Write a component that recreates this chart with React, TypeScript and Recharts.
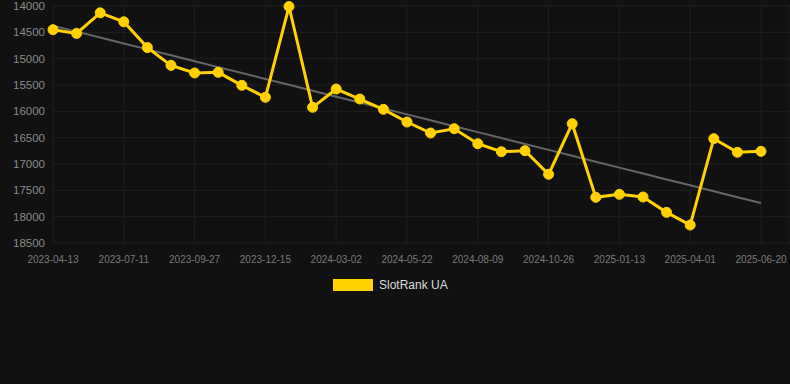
import { LineChart, Line, XAxis, YAxis, CartesianGrid } from "recharts";

const dates = [
  "2023-04-13", "2023-05-13", "2023-06-11", "2023-07-11", "2023-08-06",
  "2023-09-01", "2023-09-27", "2023-10-23", "2023-11-19", "2023-12-15",
  "2024-01-10", "2024-02-05", "2024-03-02", "2024-03-29", "2024-04-25",
  "2024-05-22", "2024-06-17", "2024-07-13", "2024-08-09", "2024-09-04",
  "2024-09-30", "2024-10-26", "2024-11-21", "2024-12-18", "2025-01-13",
  "2025-02-08", "2025-03-06", "2025-04-01", "2025-04-27", "2025-05-24",
  "2025-06-20",
];

const ranks = [
  14450, 14520, 14130, 14300, 14790, 15127, 15272, 15260, 15506, 15734,
  14010, 15924, 15576, 15766, 15962, 16203, 16412, 16330, 16615, 16767,
  16748, 17196, 16235, 17633, 17576, 17627, 17918, 18159, 16519, 16778,
  16760,
];

const yTicks = [14000, 14500, 15000, 15500, 16000, 16500, 17000, 17500, 18000, 18500];
const xTicks = [0, 3, 6, 9, 12, 15, 18, 21, 24, 27, 30];

// least squares trend over the rank series
const n = ranks.length;
const meanX = (n - 1) / 2;
const meanY = ranks.reduce((a, b) => a + b, 0) / n;
let num = 0;
let den = 0;
ranks.forEach((v, i) => {
  num += (i - meanX) * (v - meanY);
  den += (i - meanX) * (i - meanX);
});
const slope = num / den;

const data = ranks.map((rank, i) => ({
  idx: i,
  rank,
  trend: meanY + slope * (i - meanX),
}));

const App = () => {
  return (
    <div
      style={{
        position: "absolute",
        left: 0,
        top: 0,
        width: 790,
        height: 384,
        background: "#111111",
        fontFamily: "'Liberation Sans', Arial, sans-serif",
      }}
    >
      <LineChart
        width={790}
        height={270}
        data={data}
        margin={{ top: 6, right: 0, left: 0, bottom: 0 }}
      >
        <CartesianGrid stroke="#202020" strokeWidth={1} />
        <XAxis
          type="number"
          dataKey="idx"
          domain={[0, 30]}
          ticks={xTicks}
          tickFormatter={(i: number) => dates[i]}
          padding={{ left: 0, right: 29 }}
          axisLine={false}
          tickLine={false}
          tickMargin={7}
          height={27}
          interval={0}
          tick={{ fill: "#7a7a7a", fontSize: 10 }}
        />
        <YAxis
          reversed
          domain={[14000, 18500]}
          ticks={yTicks}
          width={53}
          axisLine={false}
          tickLine={false}
          interval={0}
          tick={{ fill: "#8a8a8a", fontSize: 11.5 }}
        />
        <Line
          dataKey="trend"
          stroke="#666666"
          strokeWidth={2}
          dot={false}
          activeDot={false}
          isAnimationActive={false}
        />
        <Line
          dataKey="rank"
          stroke="#ffd200"
          strokeWidth={3}
          dot={{ r: 5, fill: "#ffd200", stroke: "#ffd200", strokeWidth: 1 }}
          isAnimationActive={false}
        />
      </LineChart>
      {/* legend */}
      <div
        style={{
          position: "absolute",
          top: 278,
          left: 333,
          display: "flex",
          alignItems: "center",
        }}
      >
        <div style={{ width: 40, height: 12, background: "#ffd200" }} />
        <span style={{ marginLeft: 6, color: "#dddddd", fontSize: 12 }}>
          SlotRank UA
        </span>
      </div>
    </div>
  );
};

export default App;
